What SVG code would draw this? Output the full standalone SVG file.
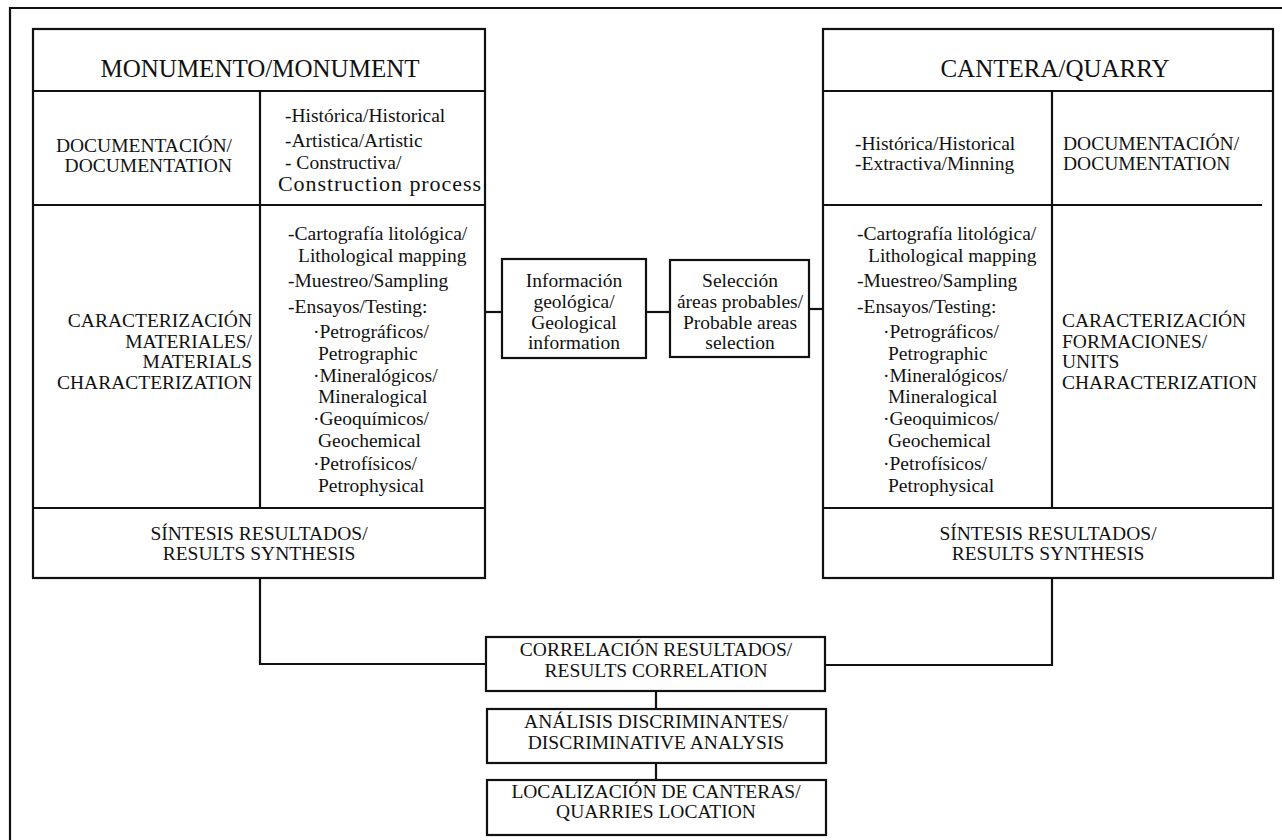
<svg xmlns="http://www.w3.org/2000/svg" width="1282" height="840" viewBox="0 0 1282 840">
<style>
.b{fill:#fff;stroke:#111;stroke-width:2.2}
.l{fill:none;stroke:#111;stroke-width:2.2}
text{font-family:"Liberation Serif","Times New Roman",serif;font-size:19.5px;fill:#111}
.t{font-size:25px;text-anchor:middle}
.c{text-anchor:middle}
.e{text-anchor:end}
</style>
<rect width="1282" height="840" fill="#fff"/>
<path class="l" d="M10,840 V8 H1282"/>
<g id="connectors">
<path class="l" d="M485,312 H502"/>
<path class="l" d="M646,312 H670"/>
<path class="l" d="M809,309 H823"/>
<path class="l" d="M260,578 V664 H486"/>
<path class="l" d="M1052,578 V665 H825"/>
<path class="l" d="M656,691 V709"/>
<path class="l" d="M656,763 V780"/>
</g>
<g id="monumento">
<rect class="b" x="33" y="29" width="452" height="549"/>
<path class="l" d="M33,91 H485 M33,205 H485 M33,508 H485 M260,91 V508"/>
<text class="t" x="260" y="77">MONUMENTO/MONUMENT</text>
<text class="e" x="232" y="152">DOCUMENTACIÓN/</text>
<text class="e" x="232" y="172">DOCUMENTATION</text>
<text x="285" y="122">-Histórica/Historical</text>
<text x="285" y="147">-Artistica/Artistic</text>
<text x="285" y="169">- Constructiva/</text>
<text x="278" y="191" style="font-size:22px" textLength="203" lengthAdjust="spacing">Construction process</text>
<text class="e" x="252" y="327">CARACTERIZACIÓN</text>
<text class="e" x="252" y="348">MATERIALES/</text>
<text class="e" x="252" y="368">MATERIALS</text>
<text class="e" x="252" y="389">CHARACTERIZATION</text>
<text x="288" y="240">-Cartografía litológica/</text>
<text x="298" y="262">Lithological mapping</text>
<text x="288" y="287">-Muestreo/Sampling</text>
<text x="288" y="313">-Ensayos/Testing:</text>
<text x="313" y="338">·Petrográficos/</text>
<text x="318" y="360">Petrographic</text>
<text x="313" y="382">·Mineralógicos/</text>
<text x="318" y="403">Mineralogical</text>
<text x="313" y="425">·Geoquímicos/</text>
<text x="318" y="447">Geochemical</text>
<text x="313" y="470">·Petrofísicos/</text>
<text x="318" y="492">Petrophysical</text>
<text class="c" x="259" y="540">SÍNTESIS RESULTADOS/</text>
<text class="c" x="259" y="560">RESULTS SYNTHESIS</text>
</g>
<g id="info">
<rect class="b" x="502" y="259" width="144" height="99"/>
<text class="c" x="574" y="287">Información</text>
<text class="c" x="574" y="308">geológica/</text>
<text class="c" x="574" y="329">Geological</text>
<text class="c" x="574" y="349">information</text>
</g>
<g id="seleccion">
<rect class="b" x="670" y="260" width="139" height="97"/>
<text class="c" x="740" y="287">Selección</text>
<text class="c" x="740" y="308">áreas probables/</text>
<text class="c" x="740" y="329">Probable areas</text>
<text class="c" x="740" y="349">selection</text>
</g>
<g id="cantera">
<rect class="b" x="823" y="29" width="450" height="549"/>
<path class="l" d="M823,91 H1273 M823,205 H1262 M823,508 H1273 M1052,91 V508"/>
<text class="t" x="1055" y="77">CANTERA/QUARRY</text>
<text x="855" y="150">-Histórica/Historical</text>
<text x="855" y="170">-Extractiva/Minning</text>
<text x="1063" y="150">DOCUMENTACIÓN/</text>
<text x="1063" y="170">DOCUMENTATION</text>
<text x="857" y="240">-Cartografía litológica/</text>
<text x="868" y="262">Lithological mapping</text>
<text x="857" y="287">-Muestreo/Sampling</text>
<text x="857" y="313">-Ensayos/Testing:</text>
<text x="883" y="338">·Petrográficos/</text>
<text x="888" y="360">Petrographic</text>
<text x="883" y="382">·Mineralógicos/</text>
<text x="888" y="403">Mineralogical</text>
<text x="883" y="425">·Geoquimicos/</text>
<text x="888" y="447">Geochemical</text>
<text x="883" y="470">·Petrofísicos/</text>
<text x="888" y="492">Petrophysical</text>
<text x="1062" y="327">CARACTERIZACIÓN</text>
<text x="1062" y="348">FORMACIONES/</text>
<text x="1062" y="368">UNITS</text>
<text x="1062" y="389">CHARACTERIZATION</text>
<text class="c" x="1048" y="540">SÍNTESIS RESULTADOS/</text>
<text class="c" x="1048" y="560">RESULTS SYNTHESIS</text>
</g>
<g id="correlacion">
<rect class="b" x="486" y="637" width="339" height="54"/>
<text class="c" x="656" y="656">CORRELACIÓN RESULTADOS/</text>
<text class="c" x="656" y="677">RESULTS CORRELATION</text>
</g>
<g id="analisis">
<rect class="b" x="487" y="709" width="339" height="54"/>
<text class="c" x="656" y="728">ANÁLISIS DISCRIMINANTES/</text>
<text class="c" x="656" y="749">DISCRIMINATIVE ANALYSIS</text>
</g>
<g id="localizacion">
<rect class="b" x="487" y="780" width="339" height="55"/>
<text class="c" x="656" y="798">LOCALIZACIÓN DE CANTERAS/</text>
<text class="c" x="656" y="818">QUARRIES LOCATION</text>
</g>
</svg>
